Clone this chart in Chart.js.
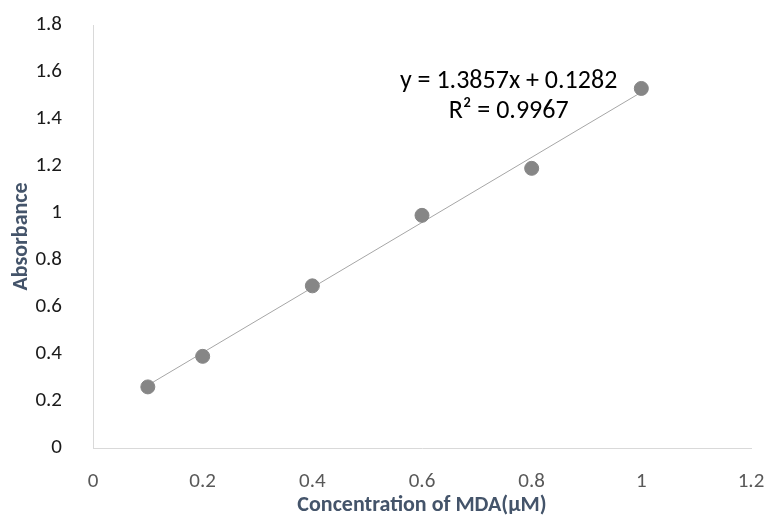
<!DOCTYPE html>
<html>
<head>
<meta charset="utf-8">
<script src="https://cdn.jsdelivr.net/npm/chart.js@4"></script>
<style>
  html, body { margin: 0; padding: 0; background: #fff; }
  #wrap { width: 768px; height: 525px; }
</style>
</head>
<body>
<div id="wrap"><canvas id="grafico"></canvas></div>
<script>
// Datos
const concentracion = [0.1, 0.2, 0.4, 0.6, 0.8, 1.0];
const absorbancia = [0.26, 0.39, 0.69, 0.99, 1.19, 1.53];
// línea de tendencia (extremos)
const tendenciaX = [0.1, 1.0];
const tendenciaY = [0.267, 1.514];
const ecuacion = ['y = 1.3857x + 0.1282', 'R\u00B2 = 0.9967'];

const fuente = "Carlito, Lato, 'Noto Sans', sans-serif";

const textoEcuacion = {
    id: 'textoEcuacion',
    afterDatasetsDraw(chart) {
        const ctx = chart.ctx;
        const x = chart.scales.x.getPixelForValue(0.758);
        ctx.save();
        ctx.font = '26px ' + fuente;
        ctx.fillStyle = '#000';
        ctx.textAlign = 'center';
        ctx.textBaseline = 'middle';
        ctx.fillText(ecuacion[0], x, chart.scales.y.getPixelForValue(1.56));
        ctx.fillText(ecuacion[1], x, chart.scales.y.getPixelForValue(1.432));
        ctx.restore();
    }
};

document.addEventListener("DOMContentLoaded", function() {
    const ctx = document.getElementById('grafico').getContext('2d');
    new Chart(ctx, {
        type: 'scatter',
        data: {
            datasets: [{
                label: 'Absorbance',
                data: concentracion.map((x, i) => ({ x: x, y: absorbancia[i] })),
                backgroundColor: '#868686',
                borderColor: '#868686',
                pointRadius: 7,
                pointHoverRadius: 7,
                order: 1
            }, {
                label: 'Linear',
                type: 'line',
                data: tendenciaX.map((x, i) => ({ x: x, y: tendenciaY[i] })),
                borderColor: '#a6a6a6',
                borderWidth: 1,
                pointRadius: 0,
                fill: false,
                order: 2
            }]
        },
        options: {
            responsive: true,
            maintainAspectRatio: false,
            animation: false,
            layout: { padding: { top: 25, right: 17, left: 0, bottom: 0 } },
            plugins: {
                legend: { display: false },
                tooltip: { enabled: false }
            },
            scales: {
                x: {
                    type: 'linear',
                    min: 0,
                    max: 1.2,
                    ticks: {
                        stepSize: 0.2,
                        padding: 13,
                        color: '#595959',
                        font: { family: fuente, size: 21 },
                        callback: v => String(Number(v.toFixed(1)))
                    },
                    grid: { display: false },
                    border: { display: true, color: '#d9d9d9', width: 1 },
                    title: {
                        display: true,
                        text: 'Concentration of MDA(\u03BCM)',
                        color: '#44546a',
                        font: { family: fuente, size: 22, weight: 'bold' },
                        padding: { top: 0, bottom: 6 }
                    },
                    afterFit: s => { s.height = 77; s.paddingRight = 0; s.paddingLeft = 0; }
                },
                y: {
                    min: 0,
                    max: 1.8,
                    ticks: {
                        stepSize: 0.2,
                        padding: 23,
                        color: '#1a1a1a',
                        font: { family: fuente, size: 21 },
                        callback: v => String(Number(v.toFixed(1)))
                    },
                    grid: { display: false },
                    border: { display: true, color: '#d9d9d9', width: 1 },
                    title: {
                        display: true,
                        text: 'Absorbance',
                        color: '#44546a',
                        font: { family: fuente, size: 22, weight: 'bold' },
                        padding: { top: 8, bottom: 0 }
                    },
                    afterFit: s => { s.width = 93; s.paddingTop = 0; s.paddingBottom = 0; }
                }
            }
        },
        plugins: [textoEcuacion]
    });
});
</script>
</body>
</html>
